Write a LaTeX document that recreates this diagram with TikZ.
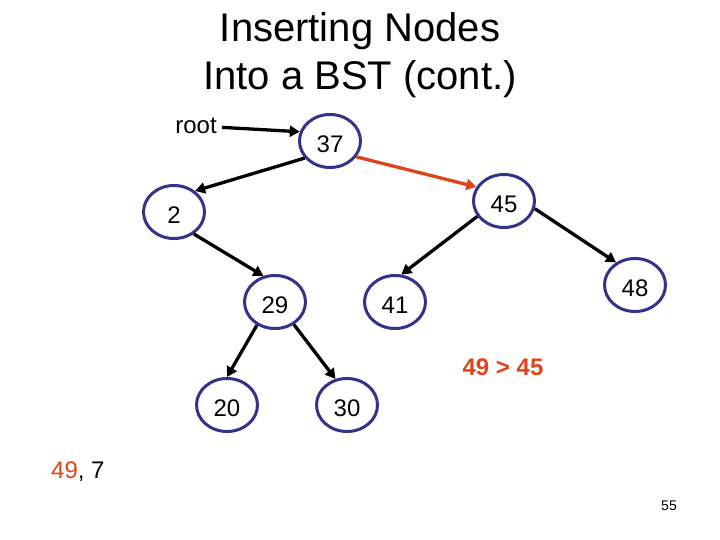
\documentclass[tikz,border=0pt]{standalone}
\usepackage{fontspec}
\setmainfont{Liberation Sans}
\usetikzlibrary{shapes.geometric,arrows.meta}
\definecolor{nodeblue}{RGB}{51,51,140}
\definecolor{hired}{RGB}{224,68,26}
\begin{document}
\begin{tikzpicture}[x=1pt,y=-1pt,
  bst/.style={ellipse,draw=nodeblue,line width=3pt,fill=white,minimum width=61pt,minimum height=53pt,inner sep=0pt,text height=23pt,text depth=0pt,font=\fontsize{24}{28}\selectfont},
  link/.style={line width=3.3pt,-{Triangle[length=10pt,width=11pt]}},
  lbl/.style={inner sep=0pt,font=\fontsize{24}{28}\selectfont}
]
\path[use as bounding box] (0,0) rectangle (720,540);
% title
\node[inner sep=0pt,anchor=base,font=\fontsize{40}{48}\selectfont] (t1) at (360,42) {Inserting Nodes};
\node[inner sep=0pt,anchor=base,font=\fontsize{40}{48}\selectfont] (t2) at (360,90) {Into a BST (cont.)};
% nodes
\node[bst] (n37) at (330,141) {37};
\node[bst] (n45) at (504,201) {45};
\node[bst] (n2) at (174,212) {2};
\node[bst] (n29) at (275,302) {29};
\node[bst] (n41) at (395,302) {41};
\node[bst] (n48) at (635,285) {48};
\node[bst] (n20) at (227,405) {20};
\node[bst] (n30) at (347,405) {30};
% labels
\node[lbl,anchor=base] (root) at (196,134) {root};
\node[lbl,anchor=base,font=\fontsize{24}{28}\selectfont\bfseries,text=hired] (cmp) at (503,375) {49 > 45};
\node[lbl,anchor=base west] (seq) at (51,478) {\textcolor{hired}{49}, 7};
\node[inner sep=0pt,anchor=base,font=\fontsize{14}{16}\selectfont] (pg) at (669,510) {55};
% connectors
\coordinate (rs) at ([xshift=5pt,yshift=-1pt]root.east);
\draw[link] (rs) -- (n37.163);
\draw[link] (n37.214) -- (n2.45);
\draw[link,draw=hired,fill=hired] (n37.-31) -- (n45.153);
\draw[link] (n2.-48) -- (n29.114);
\draw[link] (n45.210) -- (n41.77);
\draw[link] (n45.-14) -- (n48.130);
\draw[link] (n29.232) -- (n20.90);
\draw[link] (n29.-50) -- (n30.114);
\end{tikzpicture}
\end{document}
